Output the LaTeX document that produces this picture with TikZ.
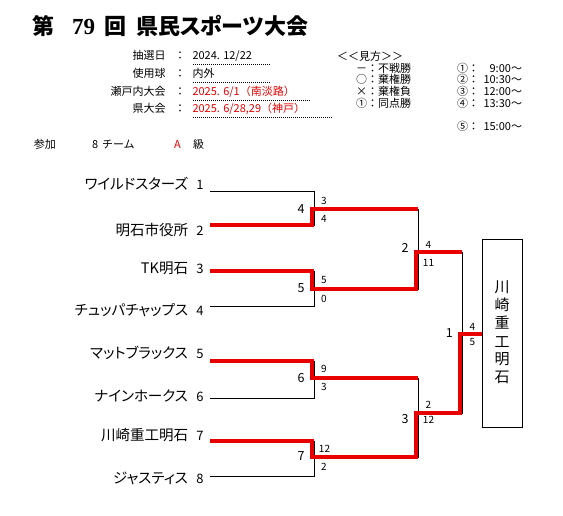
\documentclass[tikz,border=0pt]{standalone}
\usepackage{fontspec}
\setmainfont{Noto Sans CJK JP}
\newfontfamily\jpp{Noto Sans CJK JP}[RawFeature={+palt}]
\newfontfamily\titleserif{Liberation Serif}
\definecolor{winred}{RGB}{232,0,0}
\begin{document}
\begin{tikzpicture}[x=1pt,y=-1pt,
  every node/.style={inner sep=0pt,outer sep=0pt,text height=0.88em,text depth=0.12em},
  thinline/.style={black,line width=0.9pt},
  winline/.style={winred,line width=4.5pt,line cap=butt,line join=miter},
  teamname/.style={anchor=east,font=\jpp\fontsize{14.5}{16}\selectfont},
  seed/.style={font=\fontsize{13}{15}\selectfont},
  score/.style={font=\fontsize{10}{12}\selectfont},
  mno/.style={font=\fontsize{12.5}{14}\selectfont},
  info/.style={font=\fontsize{11}{13}\selectfont},
  infored/.style={info,text=winred},
  titlejp/.style={anchor=west,font=\jpp\bfseries\fontsize{22}{26}\selectfont},
  dotline/.style={black,line width=0.8pt,dash pattern=on 1pt off 1pt},
  champchar/.style={font=\fontsize{15}{17}\selectfont}
]
\fill[white] (0,0) rectangle (563,516);
\useasboundingbox (0,0) rectangle (563,516);

% ---- title ----
\node[titlejp] (tdai) at (32,31) {第};
\node[anchor=west,font=\titleserif\bfseries\fontsize{23}{26}\selectfont] (tnum) at (72,31) {79};
\node[titlejp] (tkai) at (104,31) {回};
\node[titlejp] (tname) at (136,31) {県民スポーツ大会};

% ---- info block ----
\node[info,anchor=east] (l1) at (165.5,56) {抽選日};
\node[info,anchor=east] (l2) at (165.5,73.5) {使用球};
\node[info,anchor=east] (l3) at (165.5,91.5) {瀬戸内大会};
\node[info,anchor=east] (l4) at (165.5,109) {県大会};
\node[info] (c1) at (180,56) {：};
\node[info] (c2) at (180,73.5) {：};
\node[info] (c3) at (180,91.5) {：};
\node[info] (c4) at (180,109) {：};
\node[info,anchor=west] (v1) at (192.5,56) {2024. 12/22};
\node[info,anchor=west] (v2) at (192.5,73.5) {内外};
\node[infored,anchor=west] (v3) at (192.5,91.5) {2025. 6/1（南淡路）};
\node[infored,anchor=west] (v4) at (192.5,109) {2025. 6/28,29（神戸）};
\draw[dotline] (193,64) -- (271,64);
\draw[dotline] (193,82.5) -- (271,82.5);
\draw[dotline] (193,100) -- (310,100);
\draw[dotline] (193,117) -- (333,117);

% ---- legend ----
\node[info,anchor=west] (lg0) at (337,57) {＜＜見方＞＞};
\node[info,anchor=west] (lg1) at (356,68.5) {－：不戦勝};
\node[info,anchor=west] (lg2) at (356,80) {○：棄権勝};
\node[info,anchor=west] (lg3) at (356,91.7) {×：棄権負};
\node[info,anchor=west] (lg4) at (356,103.3) {①：同点勝};
\node[info,anchor=west] (tm1) at (457,68.5) {①：};
\node[info,anchor=west] (tm2) at (457,80) {②：};
\node[info,anchor=west] (tm3) at (457,91.7) {③：};
\node[info,anchor=west] (tm4) at (457,103.3) {④：};
\node[info,anchor=west] (tm5) at (457,126.7) {⑤：};
\node[info,anchor=east] (tt1) at (522,68.5) {9:00～};
\node[info,anchor=east] (tt2) at (522,80) {10:30～};
\node[info,anchor=east] (tt3) at (522,91.7) {12:00～};
\node[info,anchor=east] (tt4) at (522,103.3) {13:30～};
\node[info,anchor=east] (tt5) at (522,126.7) {15:00～};

% ---- participants row ----
\node[info,anchor=west] (sanka) at (34,145) {参加};
\node[info,anchor=west] (num8) at (92,145) {8};
\node[info,anchor=west] (chimu) at (102,145) {チーム};
\node[infored] (klass) at (177.5,145) {A};
\node[info] (kyu) at (198.5,145) {級};

% ---- teams ----
\node[teamname] (n1) at (188,186) {ワイルドスターズ};
\node[teamname] (n2) at (188,232) {明石市役所};
\node[teamname] (n3) at (188,270) {TK明石};
\node[teamname] (n4) at (188,312) {チュッパチャップス};
\node[teamname] (n5) at (188,355) {マットブラックス};
\node[teamname] (n6) at (188,398) {ナインホークス};
\node[teamname] (n7) at (188,437) {川崎重工明石};
\node[teamname] (n8) at (188,480) {ジャスティス};
\foreach \i/\y in {1/186,2/232,3/270,4/312,5/355,6/398,7/437,8/480}
  \node[seed] (sd\i) at (200,\y) {\i};

% ---- bracket coordinates ----
\coordinate (t1) at (210,191);
\coordinate (t2) at (210,225);
\coordinate (t3) at (210,271);
\coordinate (t4) at (210,306);
\coordinate (t5) at (210,361);
\coordinate (t6) at (210,398);
\coordinate (t7) at (210,441);
\coordinate (t8) at (210,476);
\coordinate (j1) at (314,209);
\coordinate (j2) at (314,289);
\coordinate (j3) at (314,378);
\coordinate (j4) at (314,457);
\coordinate (k1) at (418,252);
\coordinate (k2) at (418,413);
\coordinate (fj) at (462,334);

% champion box
\node[draw,thinline,minimum width=40pt,minimum height=188pt,text height=,text depth=] (champ) at (502.3,333.3) {};
\foreach \i/\ch/\y in {1/川/288.3,2/崎/306.7,3/重/325,4/工/343.3,5/明/361,6/石/379}
  \node[champchar] (cc\i) at (502,\y) {\ch};

% ---- thin black bracket ----
\draw[thinline] (t1) -- (t1 -| j1) -- (t2 -| j1) -- (t2);
\draw[thinline] (t3) -- (t3 -| j2) -- (t4 -| j2) -- (t4);
\draw[thinline] (t5) -- (t5 -| j3) -- (t6 -| j3) -- (t6);
\draw[thinline] (t7) -- (t7 -| j4) -- (t8 -| j4) -- (t8);
\draw[thinline] (j1) -- (j1 -| k1) -- (j2 -| k1) -- (j2);
\draw[thinline] (j3) -- (j3 -| k2) -- (j4 -| k2) -- (j4);
\draw[thinline] (k1) -- (k1 -| fj) -- (k2 -| fj) -- (k2);
\draw[thinline] (fj) -- (champ.west |- fj);

% ---- red winner paths ----
\draw[winline] (t2) -- (312,225) -- (312,209) -- (j1 -| k1);
\draw[winline] (t3) -- (312,271) -- (312,289) -- (416,289) -- (416,252) -- (k1 -| fj);
\draw[winline] (t5) -- (312,361) -- (312,378) -- (j3 -| k2);
\draw[winline] (t7) -- (312,441) -- (312,457) -- (416,457) -- (416,413) -- (460,413) -- (460,334) -- (champ.west |- fj);

% ---- scores ----
\node[score] (a1) at (324,201) {3};
\node[score] (b1) at (324,219) {4};
\node[score] (a2) at (324,280) {5};
\node[score] (b2) at (324,298.5) {0};
\node[score] (a3) at (324,368.5) {9};
\node[score] (b3) at (324,387) {3};
\node[score] (a4) at (324.5,448.5) {12};
\node[score] (b4) at (324,467) {2};
\node[score] (a5) at (428.3,244.5) {4};
\node[score] (b5) at (428.5,262.5) {11};
\node[score] (a6) at (428.3,405) {2};
\node[score] (b6) at (428.5,420) {12};
\node[score] (a7) at (472.3,326.7) {4};
\node[score] (b7) at (472.3,341.7) {5};

% ---- match numbers ----
\node[mno] (m1) at (301,210) {4};
\node[mno] (m2) at (301,289) {5};
\node[mno] (m3) at (301,379) {6};
\node[mno] (m4) at (301,457) {7};
\node[mno] (m5) at (405,248.5) {2};
\node[mno] (m6) at (405,419.5) {3};
\node[mno] (m7) at (449.3,334) {1};
\end{tikzpicture}
\end{document}
